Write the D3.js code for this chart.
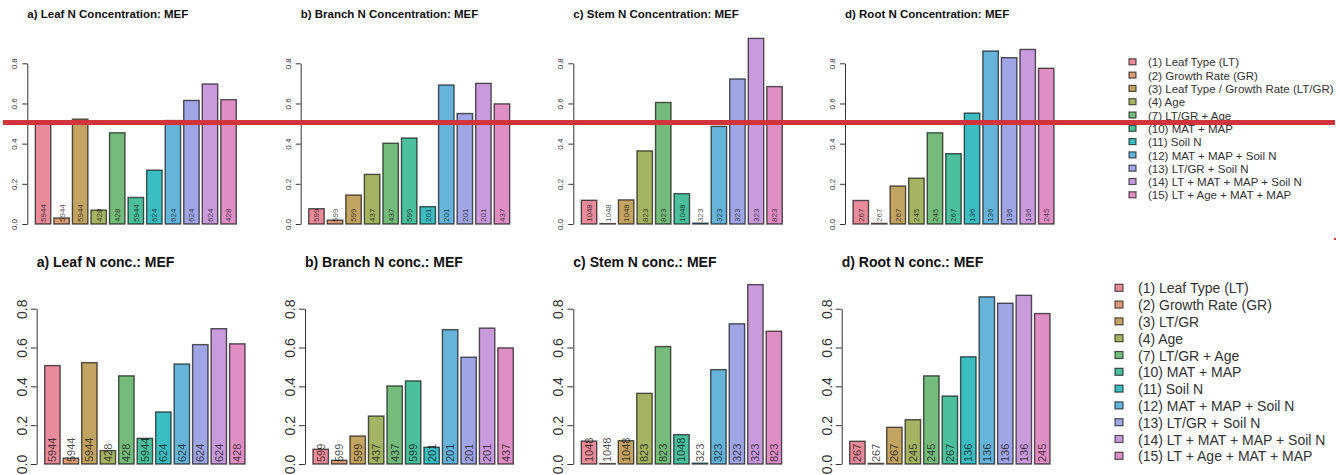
<!DOCTYPE html>
<html>
<head>
<meta charset="utf-8">
<script src="https://cdn.jsdelivr.net/npm/d3@7"></script>
<style>
  body { margin: 0; background: #fff; }
  svg { display: block; font-family: "Liberation Sans", Arial, sans-serif; }
</style>
</head>
<body>
<div id="chart"></div>
<script>
// model labels (top version uses the long name for model 3)
const legendTop = ["(1) Leaf Type (LT)", "(2) Growth Rate (GR)", "(3) Leaf Type / Growth Rate (LT/GR)",
  "(4) Age", "(7) LT/GR + Age", "(10) MAT + MAP", "(11) Soil N", "(12) MAT + MAP + Soil N",
  "(13) LT/GR + Soil N", "(14) LT + MAT + MAP + Soil N", "(15) LT + Age + MAT + MAP"];
const legendBottom = ["(1) Leaf Type (LT)", "(2) Growth Rate (GR)", "(3) LT/GR",
  "(4) Age", "(7) LT/GR + Age", "(10) MAT + MAP", "(11) Soil N", "(12) MAT + MAP + Soil N",
  "(13) LT/GR + Soil N", "(14) LT + MAT + MAP + Soil N", "(15) LT + Age + MAT + MAP"];

const titlesTop = ["a) Leaf N Concentration: MEF", "b) Branch N Concentration: MEF",
  "c) Stem N Concentration: MEF", "d) Root N Concentration: MEF"];
const titlesBottom = ["a) Leaf N conc.: MEF", "b) Branch N conc.: MEF",
  "c) Stem N conc.: MEF", "d) Root N conc.: MEF"];

// MEF per model
const leafMEF   = [0.507, 0.030, 0.522, 0.069, 0.454, 0.132, 0.268, 0.515, 0.615, 0.697, 0.619];
const branchMEF = [0.076, 0.019, 0.144, 0.247, 0.402, 0.428, 0.086, 0.692, 0.550, 0.700, 0.598];
const stemMEF   = [0.118, 0.002, 0.120, 0.364, 0.605, 0.151, 0.004, 0.486, 0.722, 0.924, 0.684];
const rootMEF   = [0.117, 0.003, 0.189, 0.228, 0.454, 0.350, 0.552, 0.861, 0.828, 0.869, 0.775];

// sample sizes written in the bars
const leafN   = ["5944", "5944", "5944", "428", "428", "5944", "624", "624", "624", "624", "428"];
const branchN = ["599", "599", "599", "437", "437", "599", "201", "201", "201", "201", "437"];
const stemN   = ["1048", "1048", "1048", "823", "823", "1048", "323", "323", "323", "323", "823"];
const rootN   = ["267", "267", "267", "245", "245", "267", "136", "136", "136", "136", "245"];

const yTicks = [0, 0.2, 0.4, 0.6, 0.8];

const barColors = ["#e88c9c", "#db9a77", "#c4a463", "#a4b463", "#75bb7b", "#4cbf9d",
  "#3bbdc2", "#66b4da", "#a0a5e5", "#c99bdd", "#e08fc5"];

const values = [leafMEF, branchMEF, stemMEF, rootMEF];
const counts = [leafN, branchN, stemN, rootN];

const svg = d3.select("#chart").append("svg")
    .attr("width", 1340)
    .attr("height", 475);

svg.append("rect").attr("width", 1340).attr("height", 475).attr("fill", "#fff");

// two copies of the same figure, small on top and large below
const rows = [
  { titles: titlesTop, legend: legendTop, axisX: [27.3, 300.7, 573.3, 845], y0: 224, y8: 63.3,
    titleY: 18, titleSize: 11.5, tickSize: 5, tickFont: 8, nFont: 8, plotW: 217,
    legX: 1129, legY: 62.3, legStep: 13.3, legFont: 11.5, sq: 7, legGap: 12 },
  { titles: titlesBottom, legend: legendBottom, axisX: [36.7, 305, 573.3, 841.7], y0: 464, y8: 308.7,
    titleY: 267, titleSize: 14, tickSize: 6, tickFont: 14, nFont: 11, plotW: 216.3,
    legX: 1115, legY: 288.3, legStep: 16.8, legFont: 14, sq: 8, legGap: 15 }
];

const idx = d3.range(11);

rows.forEach(row => {
  const y = d3.scaleLinear().domain([0, 0.8]).range([row.y0, row.y8]);

  row.axisX.forEach((ax, p) => {
    const x = d3.scaleBand()
        .domain(idx)
        .range([ax, ax + row.plotW])
        .paddingInner(1 / 6)
        .paddingOuter(0.4333);

    const g = svg.append("g");

    g.append("text")
        .attr("x", ax)
        .attr("y", row.titleY)
        .attr("font-size", row.titleSize)
        .attr("font-weight", "bold")
        .attr("fill", "#111")
        .text(row.titles[p]);

    g.selectAll(".bar")
        .data(idx)
        .enter()
        .append("rect")
        .attr("class", "bar")
        .attr("x", i => x(i))
        .attr("width", x.bandwidth())
        .attr("y", i => y(values[p][i]))
        .attr("height", i => y(0) - y(values[p][i]))
        .attr("fill", i => barColors[i])
        .attr("stroke", "#000")
        .attr("stroke-opacity", 0.65)
        .attr("stroke-width", 1.4);

    g.selectAll(".n")
        .data(idx)
        .enter()
        .append("text")
        .attr("class", "n")
        .attr("transform", i => `translate(${x(i) + x.bandwidth() / 2},${y(0) - 2}) rotate(-90)`)
        .attr("dy", "0.36em")
        .attr("font-size", row.nFont)
        .attr("fill", "#000")
        .attr("fill-opacity", 0.7)
        .text(i => counts[p][i]);

    const axis = g.append("g")
        .attr("transform", `translate(${ax},0)`)
        .call(d3.axisLeft(y).tickValues(yTicks).tickSize(row.tickSize).tickSizeOuter(0)
          .tickFormat(d3.format(".1f")));
    axis.select(".domain").attr("stroke", "#333");
    axis.selectAll(".tick line").attr("stroke", "#333");
    axis.selectAll(".tick text")
        .attr("x", null)
        .attr("dy", null)
        .attr("transform", "translate(-10,0) rotate(-90)")
        .attr("text-anchor", "middle")
        .attr("font-size", row.tickFont)
        .attr("font-family", "Liberation Sans, Arial, sans-serif")
        .attr("fill", "#333");
  });

  // legend
  const leg = svg.append("g");
  leg.selectAll("rect")
      .data(row.legend)
      .enter()
      .append("rect")
      .attr("x", row.legX)
      .attr("y", (d, i) => row.legY + i * row.legStep - row.sq / 2)
      .attr("width", row.sq)
      .attr("height", row.sq - 1)
      .attr("fill", (d, i) => barColors[i])
      .attr("stroke", "#000")
      .attr("stroke-opacity", 0.65)
      .attr("stroke-width", 1.2);
  leg.selectAll("text")
      .data(row.legend)
      .enter()
      .append("text")
      .attr("x", row.legX + row.sq + row.legGap)
      .attr("y", (d, i) => row.legY + i * row.legStep)
      .attr("dy", "0.36em")
      .attr("font-size", row.legFont)
      .attr("fill", "#333")
      .text(d => d);
});

// red marker line drawn across the top copy
svg.append("rect").attr("x", 3).attr("y", 120).attr("width", 1332).attr("height", 5).attr("fill", "#d2343c");
svg.append("rect").attr("x", 1334).attr("y", 238).attr("width", 2).attr("height", 2).attr("fill", "#d2343c");
</script>
</body>
</html>
